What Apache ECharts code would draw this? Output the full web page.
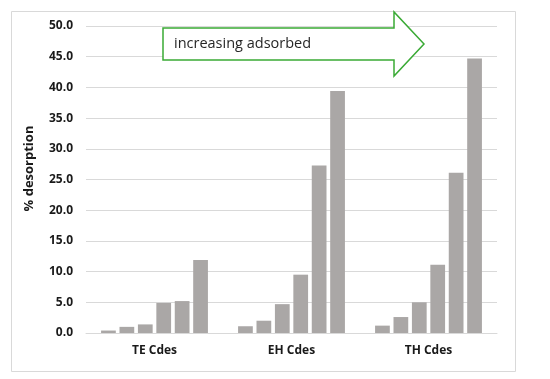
<!DOCTYPE html>
<html><head><meta charset="utf-8">
<script src="https://cdn.jsdelivr.net/npm/echarts@6/dist/echarts.min.js"></script>
<style>html,body{margin:0;padding:0;background:#fff}#c{width:550px;height:379px}</style>
</head><body><div id="c"></div>
<script>
const categories = ['TE Cdes', 'EH Cdes', 'TH Cdes'];
const s1 = [0.4, 1.1, 1.2];
const s2 = [1.0, 2.0, 2.6];
const s3 = [1.4, 4.7, 5.0];
const s4 = [4.9, 9.5, 11.1];
const s5 = [5.2, 27.3, 26.1];
const s6 = [11.9, 39.4, 44.7];
const seriesData = [s1, s2, s3, s4, s5, s6];
const yAxisName = '% desorption';
const arrowText = 'increasing adsorbed';

const chart = echarts.init(document.getElementById('c'), null, {renderer: 'canvas'});
const FONT = '"Open Sans", "Noto Sans", sans-serif';
chart.setOption({
  animation: false,
  backgroundColor: '#fff',
  grid: {left: 86, right: 53, top: 26, bottom: 46, containLabel: false},
  xAxis: {
    type: 'category', data: categories,
    axisLine: {show: true, lineStyle: {color: '#d9d9d9', width: 1}},
    axisTick: {show: false},
    axisLabel: {color: '#1a1a1a', fontWeight: 'bold', fontSize: 12, fontFamily: FONT, margin: 12}
  },
  yAxis: {
    type: 'value', min: 0, max: 50, interval: 5,
    name: yAxisName, nameLocation: 'middle', nameGap: 50,
    nameTextStyle: {color: '#1a1a1a', fontWeight: 'bold', fontSize: 13, fontFamily: FONT, padding: [0, 0, 0, 22]},
    axisLine: {show: false}, axisTick: {show: false},
    splitLine: {lineStyle: {color: '#d9d9d9', width: 1}},
    axisLabel: {color: '#1a1a1a', fontWeight: 'bold', fontSize: 12, fontFamily: FONT, margin: 13,
      formatter: v => v.toFixed(1)}
  },
  series: seriesData.map(d => ({
    type: 'bar', data: d, barGap: '25%', barCategoryGap: '22%',
    itemStyle: {color: '#aaa7a6'}
  })),
  graphic: [
    {type: 'rect', left: 9, top: 9, shape: {x: 0, y: 0, width: 504, height: 360},
      style: {fill: 'none', stroke: '#d9d9d9', lineWidth: 1}, z: -1},
    {type: 'polygon', shape: {points: [[163,28],[394,28],[394,12],[424,44],[394,76],[394,60],[163,60]]},
      style: {fill: '#fff', stroke: '#3aaa35', lineWidth: 1.5}, z: 10},
    {type: 'text', x: 174, y: 44, z: 11,
      style: {text: arrowText, fill: '#262626', font: '14.5px ' + FONT, textVerticalAlign: 'middle', verticalAlign: 'middle'}}
  ]
});
</script></body></html>
